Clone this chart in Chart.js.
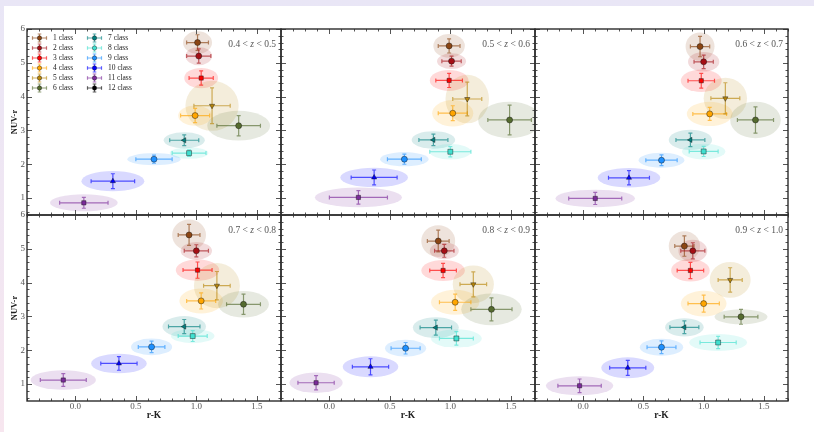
<!DOCTYPE html>
<html>
<head>
<meta charset="utf-8">
<script src="https://cdn.jsdelivr.net/npm/chart.js@4.4.1/dist/chart.umd.min.js"></script>
<style>
  html, body { margin: 0; padding: 0; }
  body {
    width: 814px; height: 432px; position: relative; overflow: hidden;
    background: linear-gradient(to bottom, #e9e6f6, #f7e6ef);
  }
  #sheet { position: absolute; left: 4px; top: 6px; right: 0; bottom: 0; background: #fff; }
  canvas { position: absolute; }
</style>
</head>
<body>
<div id="sheet"></div>
<script>
// ---- data ----
const classNames = ['1 class', '2 class', '3 class', '4 class', '5 class', '6 class',
                    '7 class', '8 class', '9 class', '10 class', '11 class', '12 class'];
const zBins = [['0.4 < ', 'z', ' < 0.5'], ['0.5 < ', 'z', ' < 0.6'], ['0.6 < ', 'z', ' < 0.7'],
               ['0.7 < ', 'z', ' < 0.8'], ['0.8 < ', 'z', ' < 0.9'], ['0.9 < ', 'z', ' < 1.0']];
const xTicks = [0.0, 0.5, 1.0, 1.5];
const yTicks = [1, 2, 3, 4, 5, 6];

// r-K per redshift bin, classes 1..11 (class 12 has no points)
const rK = [
  [1.01, 1.02, 1.04, 0.99, 1.13, 1.35, 0.90, 0.94, 0.65, 0.31, 0.07],
  [0.99, 1.01, 0.99, 1.02, 1.14, 1.49, 0.86, 1.00, 0.62, 0.37, 0.24],
  [0.97, 1.00, 0.98, 1.05, 1.18, 1.43, 0.89, 1.00, 0.65, 0.38, 0.10],
  [0.94, 1.00, 1.01, 1.04, 1.17, 1.39, 0.90, 0.97, 0.63, 0.36, -0.10],
  [0.90, 0.95, 0.94, 1.04, 1.19, 1.34, 0.88, 1.05, 0.63, 0.34, -0.11],
  [0.84, 0.91, 0.89, 1.00, 1.22, 1.31, 0.84, 1.12, 0.65, 0.37, -0.03]
];
const nuvR = [
  [5.60, 5.20, 4.55, 3.44, 3.73, 3.14, 2.71, 2.33, 2.15, 1.50, 0.86],
  [5.50, 5.05, 4.48, 3.51, 3.93, 3.31, 2.72, 2.37, 2.15, 1.61, 1.02],
  [5.48, 5.03, 4.47, 3.49, 3.95, 3.31, 2.72, 2.38, 2.12, 1.60, 0.99],
  [5.41, 4.94, 4.37, 3.46, 3.91, 3.36, 2.70, 2.42, 2.10, 1.61, 1.12],
  [5.23, 4.94, 4.36, 3.42, 3.95, 3.21, 2.67, 2.35, 2.06, 1.51, 1.04],
  [5.08, 4.94, 4.36, 3.38, 4.08, 2.99, 2.68, 2.23, 2.09, 1.48, 0.95]
];
const rKErr = [
  [0.09, 0.10, 0.10, 0.12, 0.15, 0.18, 0.12, 0.14, 0.15, 0.18, 0.20],
  [0.09, 0.08, 0.11, 0.12, 0.12, 0.18, 0.12, 0.17, 0.14, 0.19, 0.24],
  [0.08, 0.08, 0.11, 0.14, 0.12, 0.15, 0.12, 0.12, 0.13, 0.17, 0.22],
  [0.09, 0.10, 0.12, 0.12, 0.11, 0.14, 0.13, 0.12, 0.11, 0.15, 0.19],
  [0.09, 0.08, 0.11, 0.13, 0.11, 0.17, 0.13, 0.14, 0.12, 0.15, 0.15],
  [0.08, 0.10, 0.11, 0.13, 0.10, 0.14, 0.12, 0.15, 0.12, 0.15, 0.18]
];
const nuvRErr = [
  [0.23, 0.21, 0.21, 0.21, 0.53, 0.30, 0.16, 0.10, 0.12, 0.22, 0.16],
  [0.21, 0.15, 0.21, 0.22, 0.50, 0.44, 0.17, 0.15, 0.15, 0.22, 0.20],
  [0.30, 0.20, 0.22, 0.19, 0.46, 0.39, 0.20, 0.15, 0.16, 0.21, 0.18],
  [0.31, 0.18, 0.24, 0.24, 0.42, 0.30, 0.21, 0.16, 0.17, 0.20, 0.19],
  [0.32, 0.19, 0.21, 0.24, 0.37, 0.34, 0.22, 0.20, 0.17, 0.24, 0.21],
  [0.30, 0.24, 0.24, 0.25, 0.36, 0.22, 0.19, 0.18, 0.19, 0.22, 0.20]
];
// semi-axes of the shaded ellipses (data units)
const ellRK = [
  [0.12, 0.11, 0.14, 0.14, 0.22, 0.26, 0.17, 0.16, 0.22, 0.26, 0.28],
  [0.13, 0.12, 0.16, 0.17, 0.18, 0.26, 0.18, 0.17, 0.20, 0.28, 0.36],
  [0.12, 0.13, 0.17, 0.19, 0.18, 0.21, 0.18, 0.18, 0.19, 0.26, 0.33],
  [0.14, 0.13, 0.18, 0.18, 0.19, 0.21, 0.18, 0.18, 0.17, 0.23, 0.27],
  [0.14, 0.12, 0.18, 0.20, 0.17, 0.25, 0.19, 0.21, 0.17, 0.23, 0.22],
  [0.13, 0.12, 0.16, 0.19, 0.17, 0.22, 0.16, 0.24, 0.18, 0.22, 0.28]
];
const ellNUV = [
  [0.33, 0.27, 0.30, 0.30, 0.74, 0.44, 0.24, 0.17, 0.18, 0.30, 0.25],
  [0.35, 0.23, 0.31, 0.39, 0.72, 0.54, 0.26, 0.23, 0.21, 0.29, 0.29],
  [0.42, 0.29, 0.33, 0.36, 0.61, 0.54, 0.30, 0.23, 0.22, 0.29, 0.26],
  [0.46, 0.26, 0.32, 0.37, 0.67, 0.39, 0.31, 0.21, 0.25, 0.29, 0.29],
  [0.47, 0.25, 0.31, 0.37, 0.56, 0.47, 0.31, 0.27, 0.25, 0.31, 0.30],
  [0.44, 0.33, 0.33, 0.38, 0.53, 0.22, 0.27, 0.25, 0.25, 0.31, 0.28]
];

// ---- styles ----
const classColors = ['#8b4513', '#a50f15', '#ff0000', '#ffa500', '#b8860b', '#556b2f',
                     '#008080', '#40e0d0', '#1e90ff', '#0000ff', '#7b2a9a', '#000000'];
const classMarkers = ['circle', 'circle', 'rect', 'circle', 'triangle', 'circle',
                      'triangle', 'rect', 'circle', 'triangle', 'rect', 'circle'];
const markerRot = [0, 0, 0, 0, 180, 0, 270, 0, 0, 0, 0, 0];
const SERIF = '"Liberation Serif", "DejaVu Serif", serif';
const colEdges = [27, 281, 535, 788];
const rowEdges = [29, 215, 401];
const YW = 24, XH = 24;

Chart.defaults.font.family = SERIF;

function rgba(hex, a) {
  const n = parseInt(hex.slice(1), 16);
  return 'rgba(' + (n >> 16) + ',' + ((n >> 8) & 255) + ',' + (n & 255) + ',' + a + ')';
}

function errCross(ctx, cx, cy, ex, ey, color, cap) {
  ctx.strokeStyle = rgba(color, 0.65);
  ctx.lineWidth = 1.2;
  ctx.beginPath();
  ctx.moveTo(cx - ex, cy); ctx.lineTo(cx + ex, cy);
  ctx.moveTo(cx - ex, cy - cap); ctx.lineTo(cx - ex, cy + cap);
  ctx.moveTo(cx + ex, cy - cap); ctx.lineTo(cx + ex, cy + cap);
  ctx.moveTo(cx, cy - ey); ctx.lineTo(cx, cy + ey);
  ctx.moveTo(cx - cap, cy - ey); ctx.lineTo(cx + cap, cy - ey);
  ctx.moveTo(cx - cap, cy + ey); ctx.lineTo(cx + cap, cy + ey);
  ctx.stroke();
}

const panelDecor = {
  id: 'panelDecor',
  beforeDatasetsDraw(chart, args, opts) {
    const p = opts.panel;
    const {ctx, chartArea: a, scales: {x, y}} = chart;
    ctx.save();
    ctx.beginPath();
    ctx.rect(a.left, a.top, a.right - a.left, a.bottom - a.top);
    ctx.clip();
    rK[p].forEach((v, i) => {
      const cx = x.getPixelForValue(v), cy = y.getPixelForValue(nuvR[p][i]);
      const rx = x.getPixelForValue(v + ellRK[p][i]) - cx;
      const ry = cy - y.getPixelForValue(nuvR[p][i] + ellNUV[p][i]);
      ctx.fillStyle = rgba(classColors[i], 0.15);
      ctx.beginPath();
      ctx.ellipse(cx, cy, rx, ry, 0, 0, Math.PI * 2);
      ctx.fill();
    });
    rK[p].forEach((v, i) => {
      const cx = x.getPixelForValue(v), cy = y.getPixelForValue(nuvR[p][i]);
      const ex = x.getPixelForValue(v + rKErr[p][i]) - cx;
      const ey = cy - y.getPixelForValue(nuvR[p][i] + nuvRErr[p][i]);
      errCross(ctx, cx, cy, ex, ey, classColors[i], 2);
    });
    ctx.restore();
  },
  afterDatasetsDraw(chart, args, opts) {
    const p = opts.panel;
    const {ctx, chartArea: a, scales: {x, y}} = chart;
    ctx.save();
    // inward ticks on all sides
    ctx.strokeStyle = '#555';
    ctx.lineWidth = 1;
    ctx.beginPath();
    for (let k = -4; k <= 17; k++) {
      const px = Math.round(x.getPixelForValue(k / 10)) + 0.5;
      const len = k % 5 === 0 ? 5 : 2.5;
      ctx.moveTo(px, a.bottom); ctx.lineTo(px, a.bottom - len);
      ctx.moveTo(px, a.top); ctx.lineTo(px, a.top + len);
    }
    for (let k = 3; k <= 30; k++) {
      const py = Math.round(y.getPixelForValue(k / 5)) + 0.5;
      const len = k % 5 === 0 ? 5 : 2.5;
      ctx.moveTo(a.left, py); ctx.lineTo(a.left + len, py);
      ctx.moveTo(a.right, py); ctx.lineTo(a.right - len, py);
    }
    ctx.stroke();
    // frame
    ctx.strokeStyle = '#2b2b2b';
    ctx.lineWidth = 1.4;
    ctx.strokeRect(a.left, a.top, a.right - a.left, a.bottom - a.top);
    // redshift label with italic z
    const parts = zBins[p];
    const fonts = ['9.5px ' + SERIF, 'italic 9.5px ' + SERIF, '9.5px ' + SERIF];
    let w = 0;
    parts.forEach((t, j) => { ctx.font = fonts[j]; w += ctx.measureText(t).width; });
    let tx = a.right - 5 - w;
    const ty = a.top + 15;
    ctx.fillStyle = '#555';
    ctx.textBaseline = 'middle';
    ctx.textAlign = 'left';
    parts.forEach((t, j) => { ctx.font = fonts[j]; ctx.fillText(t, tx, ty); tx += ctx.measureText(t).width; });
    // legend (first panel only)
    if (p === 0) {
      classNames.forEach((name, i) => {
        const col = Math.floor(i / 6), row = i % 6;
        const sx = a.left + 12.5 + col * 55;
        const sy = a.top + 9 + row * 10;
        errCross(ctx, sx, sy, 7, 4, classColors[i], 1.8);
        ctx.fillStyle = classColors[i];
        ctx.strokeStyle = 'rgba(20,20,20,0.7)';
        ctx.lineWidth = 0.6;
        ctx.beginPath();
        ctx.arc(sx, sy, 2.2, 0, Math.PI * 2);
        ctx.fill(); ctx.stroke();
        ctx.fillStyle = '#222';
        ctx.font = '7.5px ' + SERIF;
        ctx.textAlign = 'left';
        ctx.fillText(name, sx + 13.5, sy + 0.5);
      });
    }
    ctx.restore();
  }
};

function makePanel(p) {
  const col = p % 3, row = Math.floor(p / 3);
  const left = colEdges[col], right = colEdges[col + 1];
  const top = rowEdges[row], bottom = rowEdges[row + 1];
  const mL = 26, mT = 10, mR = 10, mB = 30;
  const showY = col === 0, showX = row === 1;
  const canvas = document.createElement('canvas');
  canvas.width = right - left + mL + mR;
  canvas.height = bottom - top + mT + mB;
  canvas.style.left = (left - mL) + 'px';
  canvas.style.top = (top - mT) + 'px';
  document.body.appendChild(canvas);

  const datasets = classNames.slice(0, rK[p].length).map((name, i) => ({
    label: name,
    data: [{x: rK[p][i], y: nuvR[p][i]}],
    pointStyle: classMarkers[i],
    rotation: markerRot[i],
    pointRadius: i === 7 ? 3.5 : 3,
    backgroundColor: classColors[i],
    borderColor: 'rgba(20,20,20,0.75)',
    borderWidth: 0.6
  }));

  new Chart(canvas, {
    type: 'scatter',
    data: { datasets: datasets },
    options: {
      responsive: false,
      animation: false,
      devicePixelRatio: 1,
      layout: { padding: { left: showY ? mL - YW : mL, top: mT, right: mR, bottom: showX ? mB - XH : mB } },
      plugins: {
        legend: { display: false },
        tooltip: { enabled: false },
        panelDecor: { panel: p }
      },
      scales: {
        x: {
          type: 'linear', min: -0.4, max: 1.7, display: showX,
          grid: { display: false, drawTicks: false }, border: { display: false },
          afterBuildTicks: s => { s.ticks = xTicks.map(v => ({ value: v })); },
          afterFit: s => { s.height = showX ? XH : 0; },
          ticks: { padding: 0, color: '#555', font: { size: 9 }, callback: v => v.toFixed(1) },
          title: { display: true, text: 'r-K', color: '#222', font: { size: 9.5, weight: 'bold' },
                   padding: { top: 0, bottom: 4 } }
        },
        y: {
          type: 'linear', min: 0.5, max: 6, display: showY,
          grid: { display: false, drawTicks: false }, border: { display: false },
          afterBuildTicks: s => { s.ticks = yTicks.map(v => ({ value: v })); },
          afterFit: s => { s.width = showY ? YW : 0; },
          ticks: { padding: 2, color: '#555', font: { size: 9 }, callback: v => String(v) },
          title: { display: true, text: 'NUV-r', color: '#222', font: { size: 8.5, weight: 'bold' },
                   padding: { top: 7, bottom: 0 } }
        }
      }
    },
    plugins: [panelDecor]
  });
}

for (let p = 0; p < 6; p++) makePanel(p);
</script>
</body>
</html>
